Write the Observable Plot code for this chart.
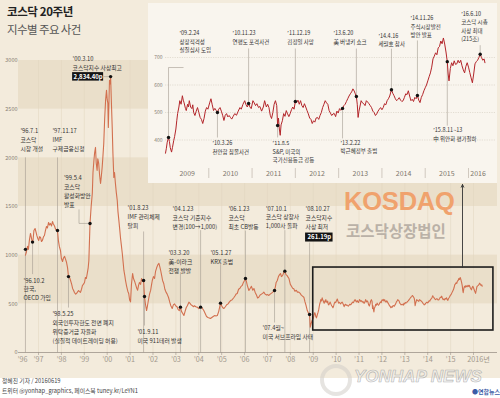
<!DOCTYPE html>
<html><head><meta charset="utf-8">
<script src="https://cdn.jsdelivr.net/npm/d3@7"></script>
<script src="https://cdn.jsdelivr.net/npm/@observablehq/plot@0.6"></script>
<style>
html,body{margin:0;padding:0;}
body{width:500px;height:398px;overflow:hidden;background:#fff;font-family:'Noto Sans CJK KR','Noto Sans',sans-serif;}
#wrap{position:relative;width:500px;height:398px;}
#bg{position:absolute;left:0;top:0;width:500px;height:378px;background:#f3ebdc;}
.abs{position:absolute;white-space:nowrap;line-height:1;}
</style></head><body>
<div id="wrap">
<div id="bg"></div>
<div id="main" class="abs" style="left:0;top:0"></div>
<div id="inset" class="abs" style="left:148px;top:3px;width:349px;height:180px;background:#f9f5ee"></div>
<div class="abs" style="left:7px;top:6px;font-size:11.5px;font-weight:700;color:#222;letter-spacing:-0.4px">코스닥 20주년</div>
<div class="abs" style="left:7px;top:24px;font-size:11.5px;font-weight:400;color:#555;letter-spacing:-0.6px">지수별 주요 사건</div>
<div class="abs" style="left:344px;top:189px;font-family:'Liberation Sans',Arial,sans-serif;font-size:25.5px;font-weight:700;color:#f0a26d;letter-spacing:-0.2px">KOSDAQ</div>
<div class="abs" style="left:346px;top:223px;font-size:15.5px;font-weight:700;color:#bab1a7;letter-spacing:0px">코스닥상장법인</div>
<div class="abs" style="left:320px;top:364px;width:32px;height:32px;border-radius:50%;border:4px solid rgba(210,205,200,0.55);box-sizing:border-box"></div>
<div class="abs" style="left:354px;top:368px;font-family:'Liberation Sans',Arial,sans-serif;font-size:17px;font-weight:700;font-style:italic;color:rgba(235,235,235,0.6);-webkit-text-stroke:0.6px rgba(150,150,150,0.7)">YONHAP NEWS</div>
<div class="abs" style="left:472px;top:389px;font-size:6px;font-weight:700;color:#3b5ca6">●연합뉴스</div>
<div class="abs" style="left:2px;top:378px;font-size:5.8px;color:#444">정혜진 기자 / 20160619</div>
<div class="abs" style="left:2px;top:388px;font-size:5.8px;color:#444">트위터 @yonhap_graphics, 페이스북 tuney.kr/LeYN1</div>
</div>
<script>
// ---------- DATA ----------
const mainYears = [1996.43,1996.47,1996.52,1996.56,1996.60,1996.65,1996.69,1996.72,1996.76,1996.80,1996.85,1996.89,1996.93,1996.97,
1997.01,1997.05,1997.09,1997.13,1997.17,1997.22,1997.26,1997.30,1997.35,1997.39,1997.44,1997.48,1997.52,1997.57,1997.61,1997.65,1997.70,1997.74,1997.79,1997.83,1997.87,1997.91,1997.96,
1998.00,1998.05,1998.09,1998.14,1998.18,1998.22,1998.27,1998.31,1998.36,1998.40,1998.45,1998.49,1998.53,1998.57,1998.62,1998.66,1998.70,1998.75,1998.79,1998.83,1998.88,1998.92,1998.96,
1999.01,1999.05,1999.09,1999.13,1999.17,1999.20,1999.25,1999.30,1999.35,1999.38,1999.42,1999.45,1999.49,1999.52,1999.56,1999.59,1999.63,1999.67,1999.71,1999.74,1999.78,1999.81,1999.85,1999.89,1999.93,1999.97,
2000.00,2000.03,2000.05,2000.08,2000.10,2000.13,2000.15,2000.18,2000.22,2000.25,2000.29,2000.32,2000.36,2000.40,2000.44,2000.47,2000.51,2000.55,2000.58,2000.62,2000.66,2000.70,2000.73,2000.77,2000.80,2000.85,2000.90,2000.94,2000.98,
2001.02,2001.06,2001.11,2001.15,2001.20,2001.24,2001.29,2001.33,2001.37,2001.41,2001.46,2001.50,2001.55,2001.59,2001.63,2001.67,2001.72,2001.76,2001.81,2001.85,2001.90,2001.94,2001.97,
2002.02,2002.07,2002.11,2002.16,2002.21,2002.26,2002.30,2002.33,2002.38,2002.42,2002.47,2002.52,2002.57,2002.62,2002.68,2002.73,2002.78,2002.84,2002.89,2002.94,2002.99,
2003.05,2003.10,2003.15,2003.20,2003.25,2003.30,2003.35,2003.40,2003.45,2003.50,2003.57,2003.62,2003.66,2003.71,2003.76,2003.81,2003.87,2003.93,
2004.00,2004.04,2004.08,2004.14,2004.22,2004.28,2004.34,2004.40,2004.46,2004.51,2004.57,2004.63,2004.70,2004.75,2004.81,2004.87,2004.95,
2005.00,2005.05,2005.10,2005.16,2005.22,2005.28,2005.34,2005.39,2005.45,2005.52,2005.58,2005.63,2005.68,2005.74,2005.80,2005.85,2005.90,2005.95,
2006.00,2006.04,2006.08,2006.12,2006.19,2006.25,2006.30,2006.36,2006.41,2006.46,2006.52,2006.57,2006.62,2006.68,2006.74,2006.80,2006.84,2006.90,2006.96,
2007.01,2007.06,2007.12,2007.18,2007.23,2007.31,2007.35,2007.38,2007.43,2007.48,2007.53,2007.57,2007.61,2007.66,2007.71,2007.76,2007.81,2007.86,2007.90,2007.94,
2008.00,2008.05,2008.10,2008.15,2008.20,2008.26,2008.31,2008.37,2008.42,2008.48,2008.53,2008.59,2008.64,2008.69,2008.74,2008.80,2008.84,2008.87,2008.91,2008.95];
const mainValues = [1000,1030,1090,1060,1150,1223,1180,1140,1150,1254,1274,1240,1200,1170,
1151,1190,1182,1140,1151,1190,1202,1250,1295,1280,1336,1310,1326,1300,1346,1320,1300,1270,1254,1250,1150,1090,1048,
966,935,970,987,960,930,870,780,770,740,700,658,640,617,600,606,620,637,625,617,650,689,700,
719,771,760,812,870,945,1326,1500,1634,1850,1973,2050,2107,1950,1870,1990,1942,1820,1737,1800,1901,2000,2148,2400,2590,2693,
2600,2559,2312,2600,2796,2760,2834,2600,2312,2050,1798,1850,1737,1640,1562,1450,1357,1260,1182,1100,1017,920,843,790,740,680,630,606,540,
520,700,812,760,730,700,660,640,690,720,700,760,730,740,575,500,431,480,550,600,640,700,740,
780,760,830,870,900,915,880,850,790,740,709,650,620,600,565,520,480,452,490,500,480,
470,440,430,466,420,400,380,420,460,480,517,505,490,483,470,480,470,466,
450,460,466,460,431,400,370,360,355,349,360,370,380,375,380,420,507,
480,460,452,470,490,500,520,534,540,560,580,600,606,650,660,680,689,720,
740,760,730,690,637,660,680,640,658,620,590,560,568,590,600,610,620,600,590,
595,586,600,610,620,637,680,720,740,780,800,812,780,790,820,836,800,790,774,760,
700,680,660,654,630,640,620,620,610,590,580,568,520,480,431,400,390,261,300,329];

const insetYears = [2009.00,2009.02,2009.04,2009.07,2009.09,2009.11,2009.14,2009.16,2009.19,2009.21,2009.24,2009.26,2009.28,2009.31,2009.33,2009.36,2009.39,2009.41,2009.43,2009.46,2009.48,2009.51,2009.53,2009.55,2009.58,2009.61,2009.63,2009.65,2009.68,2009.71,2009.74,2009.77,2009.80,2009.83,2009.86,2009.89,2009.92,2009.95,2009.98,
2010.02,2010.05,2010.08,2010.11,2010.14,2010.17,2010.20,2010.23,2010.26,2010.29,2010.32,2010.35,2010.38,2010.41,2010.44,2010.47,2010.50,2010.53,2010.56,2010.60,2010.64,2010.68,2010.72,2010.75,2010.79,2010.83,2010.86,2010.89,2010.92,2010.95,2010.98,
2011.02,2011.05,2011.08,2011.11,2011.15,2011.18,2011.22,2011.26,2011.29,2011.33,2011.36,2011.39,2011.42,2011.45,2011.48,2011.51,2011.54,2011.57,2011.59,2011.61,2011.63,2011.65,2011.67,2011.70,2011.73,2011.76,2011.79,2011.82,2011.85,2011.88,2011.91,2011.94,2011.97,
2012.00,2012.03,2012.06,2012.09,2012.12,2012.15,2012.18,2012.21,2012.24,2012.27,2012.30,2012.33,2012.36,2012.39,2012.42,2012.45,2012.48,2012.51,2012.54,2012.57,2012.60,2012.63,2012.66,2012.69,2012.72,2012.75,2012.78,2012.81,2012.84,2012.87,2012.90,2012.93,2012.96,2012.99,
2013.02,2013.05,2013.09,2013.12,2013.15,2013.18,2013.21,2013.24,2013.27,2013.30,2013.33,2013.36,2013.38,2013.41,2013.43,2013.45,2013.47,2013.49,2013.52,2013.55,2013.58,2013.61,2013.64,2013.67,2013.70,2013.73,2013.76,2013.79,2013.82,2013.85,2013.88,2013.91,2013.94,2013.97,
2014.00,2014.03,2014.06,2014.09,2014.12,2014.15,2014.18,2014.22,2014.25,2014.28,2014.31,2014.34,2014.37,2014.40,2014.43,2014.46,2014.49,2014.52,2014.55,2014.58,2014.61,2014.64,2014.67,2014.70,2014.73,2014.76,2014.79,2014.82,2014.85,2014.88,2014.91,2014.94,2014.97,
2015.00,2015.03,2015.06,2015.09,2015.12,2015.15,2015.18,2015.21,2015.24,2015.27,2015.30,2015.33,2015.36,2015.39,2015.42,2015.45,2015.48,2015.51,2015.53,2015.55,2015.58,2015.61,2015.64,2015.67,2015.70,2015.73,2015.76,2015.79,2015.82,2015.85,2015.88,2015.91,2015.94,2015.97,
2016.00,2016.03,2016.06,2016.09,2016.12,2016.15,2016.18,2016.21,2016.24,2016.27,2016.30,2016.33,2016.36,2016.38];
const insetValues = [352,370,392,409,395,372,356,372,398,412,440,470,496,520,543,530,561,545,535,515,507,530,520,543,520,514,528,500,489,505,518,500,482,475,460,478,505,518,512,
535,550,528,507,515,508,500,512,518,505,490,471,490,496,484,489,482,476,485,496,490,505,518,512,530,543,528,520,533,520,514,
543,535,525,532,518,522,505,520,543,520,530,518,490,478,500,530,543,525,453,480,440,417,455,470,496,486,507,495,485,496,510,520,512,
540,536,545,530,543,525,518,532,520,507,495,480,475,460,470,465,480,482,475,489,500,518,530,543,535,530,507,498,489,495,496,485,505,498,
514,508,515,525,530,540,550,560,568,575,586,578,570,558,530,482,505,520,543,535,532,525,543,538,532,525,518,505,500,489,495,505,512,518,
510,518,532,528,543,550,560,583,570,561,550,543,548,554,545,540,543,555,568,565,579,560,543,548,540,555,550,562,545,536,555,565,579,
590,600,615,630,644,665,695,705,717,710,735,740,760,750,771,749,720,685,640,615,660,681,670,688,675,677,690,680,690,670,655,644,668,681,
665,645,626,608,640,677,685,690,700,712,700,690,695,681];

// main-chart events
const mainEventYears  = [1996.43,1996.74,1997.83,1998.31,1999.25,2000.15,2001.59,2001.63,2003.20,2004.08,2004.95,2006.04,2007.31,2007.76,2008.84];
const mainEventValues = [1060,1134,1254,780,1326,2834.40,740,575,466,466,507,760,637,836,390];
const mainEventLabels = [
 "’96.7.1\n코스닥\n시장 개설",
 "’96.10.2\n한국,\nOECD 가입",
 "’97.11.17\nIMF\n구제금융신청",
 "’98.5.25\n외국인투자한도 전면 폐지\n위탁증거금 자율화\n(실질적 데이트레이딩 허용)",
 "’99.5.4\n코스닥\n활성화방안\n발표",
 "’00.3.10\n코스닥지수 사상최고",
 "’01.8.23\nIMF 관리체제\n탈피",
 "’01.9.11\n미국 911테러 발생",
 "’03.3.20\n美-이라크\n전쟁 발발",
 "’04.1.23\n코스닥 기준지수\n변경(100→1,000)",
 "’05.1.27\nKRX 출범",
 "’06.1.23\n코스닥\n최초 CB발동",
 "’07.4월~\n미국 서브프라임 사태",
 "’07.10.1\n코스닥 상장사\n1,000사 돌파",
 "’08.10.27\n코스닥지수\n사상 최저"];
const recordValues = [2834.40, 261.19];   // 사상 최고 / 사상 최저

// inset events
const insetEventYears  = [2009.07,2010.20,2010.92,2011.59,2012.00,2013.09,2013.41,2014.22,2014.82,2015.51,2016.27];
const insetEventValues = [409,500,533,453,540,515,558,583,562,685,712];
const insetEventLabels = [
 "’09.2.24\n상장적격성\n실질심사 도입",
 "’10.3.26\n천안함 침몰사건",
 "’10.11.23\n연평도 포격사건",
 "’11.8.5\nS&P, 미국의\n국가신용등급 강등",
 "’11.12.19\n김정일 사망",
 "’13.2.22\n박근혜정부 출범",
 "’13.6.20\n美 버냉키 쇼크",
 "’14.4.16\n세월호 참사",
 "’14.11.26\n주식시장발전\n방안 발표",
 "’15.8.11~13\n中 위안화 평가절하",
 "’16.6.10\n코스닥 시총\n사상 최대\n(215조)"];

// ticks & labels
const mainYTicks = [0,500,1000,1500,2000,2500,3000];
const bandLows = [500,1500,2500];
const mainYearTicks = d3.range(1997,2017);
const mainXLabelYears = [1996.3].concat(d3.range(1997,2016), [2016.22]);
const mainXLabels = ["’96","’97","’98","’99","’00","’01","’02","’03","’04","’05","’06","’07","’08","’09","’10","’11","’12","’13","’14","’15","2016년"];
const insetYTicks = [400,500,600,700];
const insetYearLabelYears = [2009.5,2010.5,2011.5,2012.5,2013.5,2014.5,2015.5,2016.22];
const insetYearLabels = ["2009","2010","2011","2012","2013","2014","2015","2016"];
const insetSeparators = [2010,2011,2012,2013,2014,2015,2016];
const zoomBox = {from: 2009.0, to: 2016.87, low: 226, high: 873};

// ---------- LAYOUT (pixel offsets relative to each event dot) ----------
// [dx, dy, leadEnd, leaderKind]
const mainLayout = [
 [-5,-123,-92,"axis"],[-9,34,32,"down"],[-5,-104,-73,"axis"],[-16,33,31,"down"],
 [-26,-50,-14,"elbow"],[-38,-22,0,"record"],[-16,-77,-49,"axis"],[-7,31,29,"down"],
 [-12,-59,-35,"axis"],[-28,-103,-77,"axis"],[-10,-55,-39,"axis"],[-17,-74,-48,"axis"],
 [-12,33,32,"down"],[-19,-67,-41,"axis"],[-4,-110,-72,"axis"]];
const insetLayout = [
 [11,-108,-70,"elbow"],[-5,27,25,"down"],[-16,-74,-55,"down"],[-5,14,12,"down"],
 [-8,-72,-53,"down"],[-2,31,30,"down"],[-23,-67,-48,"down"],[-13,-58,-41,"down"],
 [-7,-81,-55,"down"],[-14,65,64,"down"],[-19,-44,-9,"down"]];

// ---------- MAIN CHART ----------
const MX = {domain:[1997,2016], range:[38,473]};
const MY = {domain:[0,3000], range:[352,60]};
const xs = d3.scaleLinear(MX.domain, MX.range), ys = d3.scaleLinear(MY.domain, MY.range);
const px = (t,d)=>xs.invert(xs(t)+d), py = (v,d)=>ys.invert(ys(v)+d);

const series = mainYears.map((t,i)=>({t, v:mainValues[i]}))
  .concat(insetYears.map((t,i)=>({t, v:insetValues[i]})));
const mEvents = mainEventYears.map((t,i)=>({t, v:mainEventValues[i], label:mainEventLabels[i], lay:mainLayout[i]}));

const mLinks = [];
mEvents.forEach(e=>{
  const [dx,dy,lead,kind] = e.lay;
  if (kind==="axis") mLinks.push({x1:e.t,y1:0,x2:e.t,y2:py(e.v,lead)});
  else if (kind==="down") mLinks.push({x1:e.t,y1:e.v,x2:e.t,y2:py(e.v,lead)});
  else if (kind==="elbow") {
    const xe = px(e.t,-11);
    mLinks.push({x1:xe,y1:py(e.v,lead),x2:xe,y2:e.v});
    mLinks.push({x1:xe,y1:e.v,x2:e.t,y2:e.v});
  } else if (kind==="record") {
    mLinks.push({x1:px(e.t,-7),y1:e.v,x2:e.t,y2:e.v});
  }
});
const recordBoxes = [
  {t:mEvents[5].t, v:mEvents[5].v, dx1:-38, dx2:-7, dy1:-4, dy2:4.5, text:d3.format(",.2f")(recordValues[0])+"p"},
  {t:mEvents[14].t, v:mEvents[14].v, dx1:-4, dx2:23.5, dy1:-81.5, dy2:-72.5, text:d3.format(",.2f")(recordValues[1])+"p"}
];
const arrowSpec = [{t: 2015.52, from: zoomBox.high, to: 1726}];

const font = "'Noto Sans CJK KR','Noto Sans',sans-serif";
const mainPlot = Plot.plot({
  width: 500, height: 398, margin: 0,
  x: {...MX, axis: null}, y: {...MY, axis: null},
  style: {background: "transparent", fontFamily: font, overflow: "visible"},
  marks: [
    Plot.rect(bandLows, {x1: px(1997,-20), x2: px(1997,459), y1: d=>d, y2: d=>d+500, fill: "#eadfca"}),
    Plot.ruleX(mainYearTicks, {y1: 0, y2: 3000, stroke: "#e0d4bf", strokeWidth: 0.5}),
    Plot.ruleY([0], {x1: px(1997,-20), x2: px(1997,459), stroke: "#9d948a", strokeWidth: 0.8}),
    Plot.ruleX(mainYearTicks, {y1: 0, y2: py(0,3), stroke: "#9d948a", strokeWidth: 0.6}),
    Plot.text(mainXLabelYears, {x: d=>d, y: py(0,7), text: (d,i)=>mainXLabels[i], fontSize: 7.2, fill: "#a2988c"}),
    Plot.text(mainYTicks, {x: px(1997,-21), y: d=>d, text: d=>String(d), textAnchor: "end", fontSize: 5.5, fill: "#877e74"}),
    Plot.link(mLinks, {x1:"x1", y1:"y1", x2:"x2", y2:"y2", stroke: "#a39a90", strokeWidth: 0.6}),
    Plot.line(series, {x: "t", y: "v", stroke: "#d2704f", strokeWidth: 1.1}),
    Plot.rect([zoomBox], {x1: "from", x2: "to", y1: "low", y2: "high", fill: "none", stroke: "#1c1c1c", strokeWidth: 1.6}),
    Plot.arrow(arrowSpec, {x1: "t", x2: "t", y1: "from", y2: "to", stroke: "#333", strokeWidth: 0.9, headLength: 5, headAngle: 50}),
    Plot.dot(mEvents, {x: "t", y: "v", r: 1.7, fill: "#111"}),
    Plot.text(mEvents, {x: e=>px(e.t,e.lay[0]), y: e=>py(e.v,e.lay[1]), text: "label", textAnchor: "start", lineAnchor: "top", lineHeight: 1.55, fontSize: 5.8, fill: "#333"}),
    Plot.rect(recordBoxes, {x1: b=>px(b.t,b.dx1), x2: b=>px(b.t,b.dx2), y1: b=>py(b.v,b.dy1), y2: b=>py(b.v,b.dy2), fill: "#141414"}),
    Plot.text(recordBoxes, {x: b=>px(b.t,(b.dx1+b.dx2)/2), y: b=>py(b.v,(b.dy1+b.dy2)/2), text: "text", fill: "#fff", fontSize: 6, fontWeight: 700})
  ]
});
document.getElementById("main").appendChild(mainPlot);

// ---------- INSET ----------
const IX = {domain:[2009,2016], range:[17,320]};
const IY = {domain:[500,700], range:[109,54]};
const xi = d3.scaleLinear(IX.domain, IX.range), yi = d3.scaleLinear(IY.domain, IY.range);
const pxi = (t,d)=>xi.invert(xi(t)+d), pyi = (v,d)=>yi.invert(yi(v)+d);
const iSeries = insetYears.map((t,i)=>({t, v:insetValues[i]}));
const iEvents = insetEventYears.map((t,i)=>({t, v:insetEventValues[i], label:insetEventLabels[i], lay:insetLayout[i]}));
const iLinks = [];
iEvents.forEach(e=>{
  const [dx,dy,lead,kind] = e.lay;
  if (kind==="down") iLinks.push({x1:e.t,y1:e.v,x2:e.t,y2:pyi(e.v,lead)});
  else if (kind==="elbow") {
    iLinks.push({x1:e.t,y1:e.v,x2:e.t,y2:pyi(e.v,lead)});
    iLinks.push({x1:e.t,y1:pyi(e.v,lead),x2:pxi(e.t,15),y2:pyi(e.v,lead)});
  }
});
const insetPlot = Plot.plot({
  width: 349, height: 180, margin: 0,
  x: {...IX, axis: null}, y: {...IY, axis: null},
  style: {background: "transparent", fontFamily: font, overflow: "visible"},
  marks: [
    Plot.ruleY(insetYTicks, {x1: 2009, x2: pxi(2016,27), stroke: "#d3ccc0", strokeWidth: 0.6, strokeDasharray: "1.2,1.2"}),
    Plot.text(insetYTicks, {x: pxi(2009,-3), y: d=>d, text: d=>String(d), textAnchor: "end", fontSize: 5, fill: "#877e74"}),
    Plot.link(iLinks, {x1:"x1", y1:"y1", x2:"x2", y2:"y2", stroke: "#a39a90", strokeWidth: 0.6}),
    Plot.line(iSeries, {x: "t", y: "v", stroke: "#b3252a", strokeWidth: 1}),
    Plot.dot(iEvents, {x: "t", y: "v", r: 1.7, fill: "#111"}),
    Plot.text(iEvents, {x: e=>pxi(e.t,e.lay[0]), y: e=>pyi(e.v,e.lay[1]), text: "label", textAnchor: "start", lineAnchor: "top", lineHeight: 1.5, fontSize: 5.5, fill: "#333"}),
    Plot.ruleX(insetSeparators, {y1: pyi(500,56), y2: pyi(500,66), stroke: "#b5ab9f", strokeWidth: 0.6}),
    Plot.text(insetYearLabelYears, {x: d=>d, y: pyi(500,61), text: (d,i)=>insetYearLabels[i], fontSize: 7, fill: "#7d756c"})
  ]
});
document.getElementById("inset").appendChild(insetPlot);
</script>
</body></html>
